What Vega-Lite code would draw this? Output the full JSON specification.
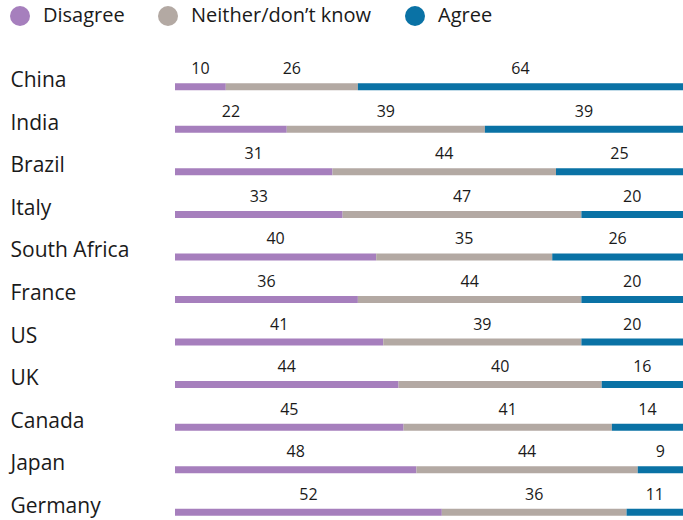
{
  "$schema": "https://vega.github.io/schema/vega-lite/v6.json",
  "width": 508,
  "height": 468,
  "autosize": {"type": "none"},
  "padding": {"left": 175, "top": 60, "right": 0, "bottom": 0},
  "background": "white",
  "config": {"view": {"stroke": null}, "font": "Open Sans"},
  "data": {
    "values": [
      {"country": "China", "response": "Disagree", "value": 10},
      {"country": "China", "response": "Neither/don’t know", "value": 26},
      {"country": "China", "response": "Agree", "value": 64},
      {"country": "India", "response": "Disagree", "value": 22},
      {"country": "India", "response": "Neither/don’t know", "value": 39},
      {"country": "India", "response": "Agree", "value": 39},
      {"country": "Brazil", "response": "Disagree", "value": 31},
      {"country": "Brazil", "response": "Neither/don’t know", "value": 44},
      {"country": "Brazil", "response": "Agree", "value": 25},
      {"country": "Italy", "response": "Disagree", "value": 33},
      {"country": "Italy", "response": "Neither/don’t know", "value": 47},
      {"country": "Italy", "response": "Agree", "value": 20},
      {"country": "South Africa", "response": "Disagree", "value": 40},
      {"country": "South Africa", "response": "Neither/don’t know", "value": 35},
      {"country": "South Africa", "response": "Agree", "value": 26},
      {"country": "France", "response": "Disagree", "value": 36},
      {"country": "France", "response": "Neither/don’t know", "value": 44},
      {"country": "France", "response": "Agree", "value": 20},
      {"country": "US", "response": "Disagree", "value": 41},
      {"country": "US", "response": "Neither/don’t know", "value": 39},
      {"country": "US", "response": "Agree", "value": 20},
      {"country": "UK", "response": "Disagree", "value": 44},
      {"country": "UK", "response": "Neither/don’t know", "value": 40},
      {"country": "UK", "response": "Agree", "value": 16},
      {"country": "Canada", "response": "Disagree", "value": 45},
      {"country": "Canada", "response": "Neither/don’t know", "value": 41},
      {"country": "Canada", "response": "Agree", "value": 14},
      {"country": "Japan", "response": "Disagree", "value": 48},
      {"country": "Japan", "response": "Neither/don’t know", "value": 44},
      {"country": "Japan", "response": "Agree", "value": 9},
      {"country": "Germany", "response": "Disagree", "value": 52},
      {"country": "Germany", "response": "Neither/don’t know", "value": 36},
      {"country": "Germany", "response": "Agree", "value": 11}
    ]
  },
  "transform": [
    {"calculate": "indexof(['Disagree','Neither/don’t know','Agree'], datum.response)", "as": "order"},
    {"stack": "value", "groupby": ["country"], "sort": [{"field": "order"}], "offset": "normalize", "as": ["x0", "x1"]},
    {"calculate": "(datum.x0 + datum.x1) / 2", "as": "xm"}
  ],
  "encoding": {
    "y": {
      "field": "country",
      "type": "nominal",
      "sort": ["China", "India", "Brazil", "Italy", "South Africa", "France", "US", "UK", "Canada", "Japan", "Germany"],
      "scale": {"paddingInner": 0, "paddingOuter": 0},
      "axis": {
        "title": null,
        "domain": false,
        "ticks": false,
        "labelAlign": "left",
        "labelPadding": 165,
        "labelOffset": 0,
        "labelFontSize": 21,
        "labelColor": "#1a1a1a",
        "labelFont": "Open Sans",
        "labelLimit": 0
      }
    }
  },
  "layer": [
    {
      "mark": {"type": "bar", "height": 7, "yOffset": 5.5},
      "encoding": {
        "x": {"field": "x0", "type": "quantitative", "scale": {"domain": [0, 1]}, "axis": null},
        "x2": {"field": "x1"},
        "color": {
          "field": "response",
          "type": "nominal",
          "sort": ["Disagree", "Neither/don’t know", "Agree"],
          "scale": {"domain": ["Disagree", "Neither/don’t know", "Agree"], "range": ["#a67fbd", "#b3a9a3", "#0a72a5"]},
          "legend": {
            "title": null,
            "orient": "none",
            "legendX": -165,
            "legendY": -54,
            "direction": "horizontal",
            "symbolType": "circle",
            "symbolSize": 400,
            "symbolStrokeWidth": 0,
            "symbolOpacity": 1,
            "labelFontSize": 20,
            "labelColor": "#1a1a1a",
            "labelOffset": 13,
            "labelLimit": 0,
            "columnPadding": 33
          }
        }
      }
    },
    {
      "mark": {"type": "text", "yOffset": -12, "fontSize": 16, "color": "#1a1a1a"},
      "encoding": {
        "x": {"field": "xm", "type": "quantitative"},
        "text": {"field": "value", "type": "quantitative"}
      }
    }
  ]
}
